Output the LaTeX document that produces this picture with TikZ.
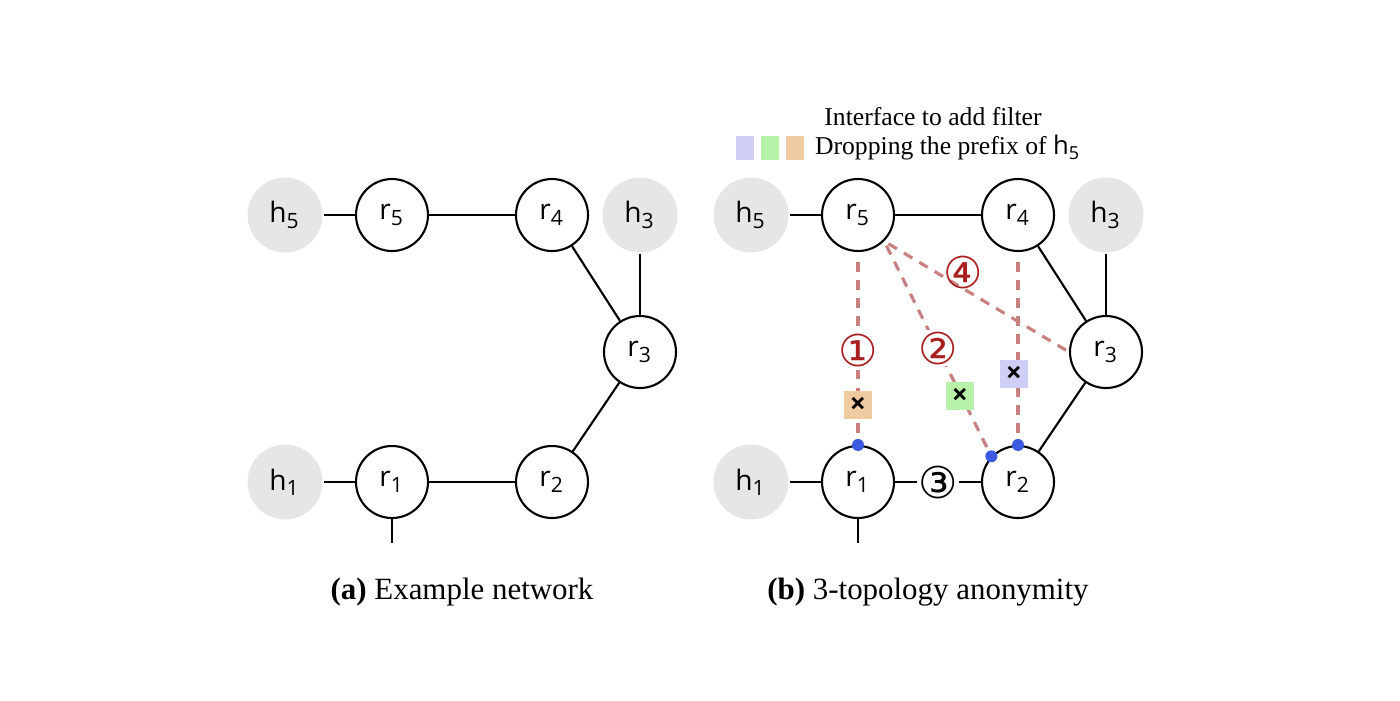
\documentclass[tikz,border=0pt]{standalone}
\usepackage{fontspec}
\setmainfont{Liberation Serif}
\setsansfont{Open Sans}
\newfontfamily\symfont{DejaVu Sans}
\usetikzlibrary{positioning}
\definecolor{hostgray}{HTML}{E6E6E6}
\definecolor{dropline}{RGB}{201,128,128}
\definecolor{numred}{RGB}{170,30,30}
\definecolor{portblue}{RGB}{60,90,225}
\definecolor{fltorange}{HTML}{F0CBA2}
\definecolor{fltgreen}{HTML}{B7F2A8}
\definecolor{fltpurple}{HTML}{CECEF6}

\begin{document}
\begin{tikzpicture}[line width=0.6pt,
    every node/.style={font=\sffamily\fontsize{8}{9}\selectfont},
    router/.style={circle, draw, fill=white, minimum size=0.72cm, inner sep=0pt},
    host/.style={circle, fill=hostgray, minimum size=0.75cm, inner sep=0pt},
    drop/.style={draw=dropline, line width=0.9pt, dash pattern=on 2.8pt off 2.3pt},
    port/.style={circle, fill=portblue, minimum size=0.12cm, inner sep=0pt},
    filter/.style={minimum size=0.28cm, inner sep=0pt, font=\sffamily\bfseries\fontsize{8}{9}\selectfont},
    hop/.style={font=\symfont\fontsize{12.5}{12.5}\selectfont, text=numred, fill=white, inner sep=0.4pt},
    legendbox/.style={minimum width=0.18cm, minimum height=0.24cm, inner sep=0pt},
    caption/.style={font=\rmfamily\fontsize{8.8}{11}\selectfont}]
    \useasboundingbox (0,0) rectangle (14,7);

    % (a) Nodes
    \node[host] (h5) at (2.85,4.85) {h\textsubscript{5}};
    \node[router] (r5) at (3.92,4.85) {r\textsubscript{5}};
    \node[router] (r4) at (5.52,4.85) {r\textsubscript{4}};
    \node[host] (h3) at (6.40,4.85) {h\textsubscript{3}};
    \node[router] (r3) at (6.40,3.48) {r\textsubscript{3}};
    \node[router] (r2) at (5.52,2.18) {r\textsubscript{2}};
    \node[router] (r1) at (3.92,2.18) {r\textsubscript{1}};
    \node[host] (h1) at (2.85,2.18) {h\textsubscript{1}};
    \coordinate (r1out) at (3.92,1.57);

    % (a) Links
    \draw (h5) -- (r5);
    \draw (r5) -- (r4);
    \draw (r4) -- (r3);
    \draw (h3) -- (r3);
    \draw (r3) -- (r2);
    \draw (r2) -- (r1);
    \draw (r1) -- (h1);
    \draw (r1) -- (r1out);

    % (b) Nodes
    \node[host] (h5b) at (7.51,4.85) {h\textsubscript{5}};
    \node[router] (r5b) at (8.58,4.85) {r\textsubscript{5}};
    \node[router] (r4b) at (10.18,4.85) {r\textsubscript{4}};
    \node[host] (h3b) at (11.06,4.85) {h\textsubscript{3}};
    \node[router] (r3b) at (11.06,3.48) {r\textsubscript{3}};
    \node[router] (r2b) at (10.18,2.18) {r\textsubscript{2}};
    \node[router] (r1b) at (8.58,2.18) {r\textsubscript{1}};
    \node[host] (h1b) at (7.51,2.18) {h\textsubscript{1}};
    \coordinate (r1bout) at (8.58,1.57);

    % (b) Links
    \draw (h5b) -- (r5b);
    \draw (r5b) -- (r4b);
    \draw (r4b) -- (r3b);
    \draw (h3b) -- (r3b);
    \draw (r3b) -- (r2b);
    \draw (r2b) -- (r1b);
    \draw (r1b) -- (h1b);
    \draw (r1b) -- (r1bout);

    % Interfaces and dropped prefixes
    \coordinate (if1) at (r1b.90);
    \coordinate (if2) at (r2b.136);
    \coordinate (if3) at (r2b.90);
    \draw[drop, shorten <=1mm] (r5b.south) -- (if1);
    \draw[drop, shorten <=0.5mm] (r5b.-45) -- (if2);
    \draw[drop, shorten <=0.5mm] (r5b.-45) -- (r3b.west);
    \draw[drop, shorten <=1mm] (r4b.south) -- (if3);
    \node[port] (p1) at (if1) {};
    \node[port] (p2) at (if2) {};
    \node[port] (p3) at (if3) {};

    \node[filter, fill=fltorange] (f1) at (8.58,2.95) {×};
    \node[filter, fill=fltgreen] (f2) at (9.60,3.04) {×};
    \node[filter, fill=fltpurple] (f3) at (10.14,3.26) {×};

    \node[hop] (n1) at (8.58,3.50) {①};
    \node[hop] (n2) at (9.38,3.52) {②};
    \node[hop, text=black] (n3) at (9.38,2.18) {③};
    \node[hop, fill=none] (n4) at (9.63,4.28) {④};

    % Legend
    \node[font=\rmfamily\fontsize{7.3}{9}\selectfont] (lgtitle) at (9.33,5.83) {Interface to add filter};
    \node[legendbox, fill=fltpurple] (lg1) at (7.45,5.52) {};
    \node[legendbox, fill=fltgreen] (lg2) at (7.70,5.52) {};
    \node[legendbox, fill=fltorange] (lg3) at (7.95,5.52) {};
    \node[anchor=west, font=\rmfamily\fontsize{7.3}{9}\selectfont, inner sep=0pt] (lgtext) at (8.14,5.52) {Dropping the prefix of \textsf{h\textsubscript{5}}};

    % Captions
    \node[caption] (capa) at (4.62,1.08) {\textbf{(a)} Example network};
    \node[caption] (capb) at (9.28,1.08) {\textbf{(b)} 3-topology anonymity};
\end{tikzpicture}
\end{document}
